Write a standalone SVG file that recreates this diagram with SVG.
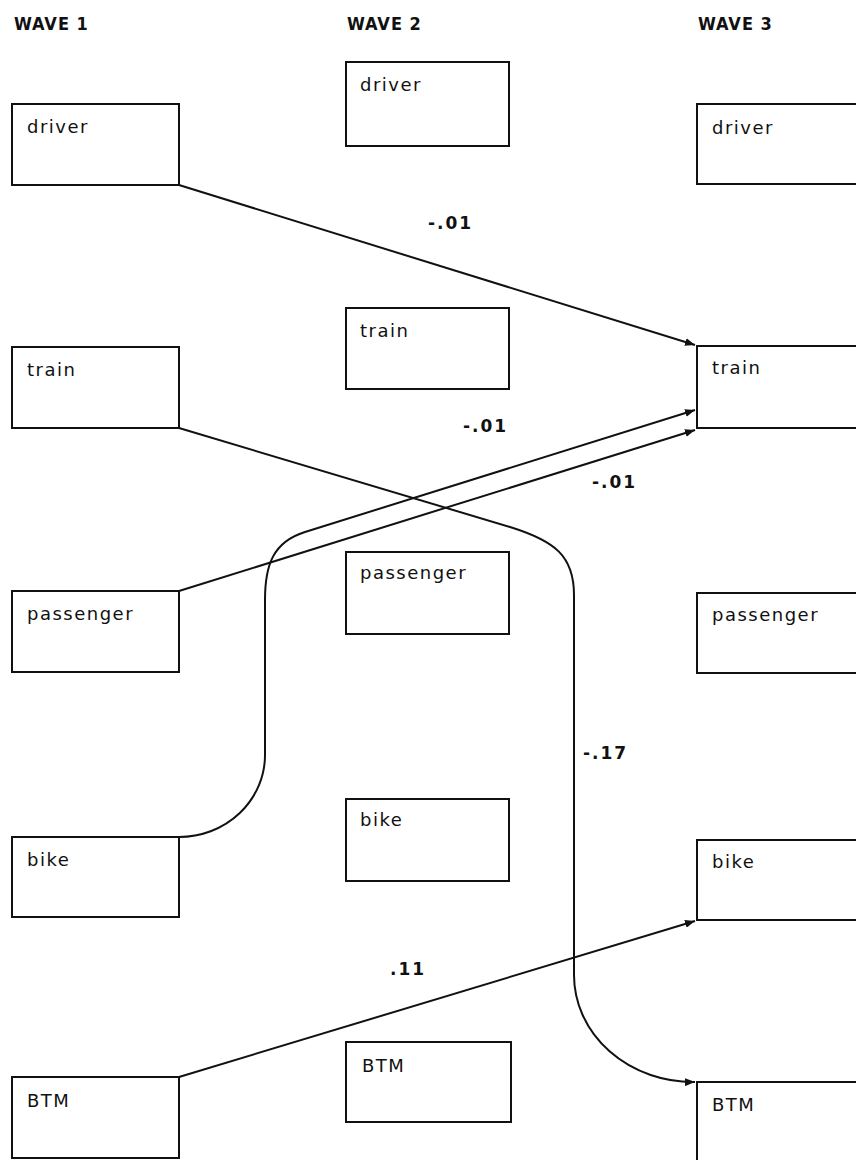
<svg xmlns="http://www.w3.org/2000/svg" width="856" height="1160" viewBox="0 0 856 1160">
<style>
.box{fill:none;stroke:#111;stroke-width:2}
.lbl{font-family:"DejaVu Sans","Liberation Sans",sans-serif;font-size:18px;letter-spacing:1.5px;fill:#111}
.hdr{font-family:"DejaVu Sans Condensed","DejaVu Sans",sans-serif;font-size:18px;font-weight:bold;letter-spacing:1px;fill:#111}
.num{font-family:"DejaVu Sans","Liberation Sans",sans-serif;font-size:17px;font-weight:bold;letter-spacing:2px;fill:#111}
.con{fill:none;stroke:#111;stroke-width:2}
</style>
<defs>
<marker id="arr" markerUnits="userSpaceOnUse" markerWidth="11" markerHeight="8" refX="10" refY="4" orient="auto">
<path d="M0,0 L10,4 L0,8 z" fill="#111"/>
</marker>
</defs>
<rect width="856" height="1160" fill="#fff"/>
<g id="headers">
<text class="hdr" x="14" y="30">WAVE 1</text>
<text class="hdr" x="347" y="30">WAVE 2</text>
<text class="hdr" x="698" y="30">WAVE 3</text>
</g>
<g id="w1-driver"><rect class="box" x="12" y="104" width="167" height="81"/><text class="lbl" x="27" y="133">driver</text></g>
<g id="w1-train"><rect class="box" x="12" y="347" width="167" height="81"/><text class="lbl" x="27" y="376">train</text></g>
<g id="w1-passenger"><rect class="box" x="12" y="591" width="167" height="81"/><text class="lbl" x="27" y="620">passenger</text></g>
<g id="w1-bike"><rect class="box" x="12" y="837" width="167" height="80"/><text class="lbl" x="27" y="866">bike</text></g>
<g id="w1-btm"><rect class="box" x="12" y="1077" width="167" height="81"/><text class="lbl" x="27" y="1107">BTM</text></g>
<g id="w2-driver"><rect class="box" x="346" y="62" width="163" height="84"/><text class="lbl" x="360" y="91">driver</text></g>
<g id="w2-train"><rect class="box" x="346" y="308" width="163" height="81"/><text class="lbl" x="360" y="337">train</text></g>
<g id="w2-passenger"><rect class="box" x="346" y="552" width="163" height="82"/><text class="lbl" x="360" y="579">passenger</text></g>
<g id="w2-bike"><rect class="box" x="346" y="799" width="163" height="82"/><text class="lbl" x="360" y="826">bike</text></g>
<g id="w2-btm"><rect class="box" x="346" y="1042" width="165" height="80"/><text class="lbl" x="362" y="1072">BTM</text></g>
<g id="w3-driver"><rect class="box" x="697" y="104" width="200" height="80"/><text class="lbl" x="712" y="134">driver</text></g>
<g id="w3-train"><rect class="box" x="697" y="346" width="200" height="82"/><text class="lbl" x="712" y="374">train</text></g>
<g id="w3-passenger"><rect class="box" x="697" y="593" width="200" height="80"/><text class="lbl" x="712" y="621">passenger</text></g>
<g id="w3-bike"><rect class="box" x="697" y="840" width="200" height="80"/><text class="lbl" x="712" y="868">bike</text></g>
<g id="w3-btm"><rect class="box" x="697" y="1082" width="200" height="100"/><text class="lbl" x="712" y="1111">BTM</text></g>
<g id="connectors">
<path class="con" d="M179,185 L695,345" marker-end="url(#arr)"/>
<path class="con" d="M179,428 L510,527 C555,541 574,556 574,595 L574,975 A119,107 0 0 0 695,1082" marker-end="url(#arr)"/>
<path class="con" d="M179,591 L695,430" marker-end="url(#arr)"/>
<path class="con" d="M179,837 A86,82 0 0 0 265,755 L265,600 C265,565 273,542 305,532 L695,410" marker-end="url(#arr)"/>
<path class="con" d="M179,1077 L695,921" marker-end="url(#arr)"/>
</g>
<g id="labels">
<text class="num" x="428" y="229">-.01</text>
<text class="num" x="463" y="432">-.01</text>
<text class="num" x="592" y="488">-.01</text>
<text class="num" x="583" y="759">-.17</text>
<text class="num" x="390" y="975">.11</text>
</g>
</svg>
